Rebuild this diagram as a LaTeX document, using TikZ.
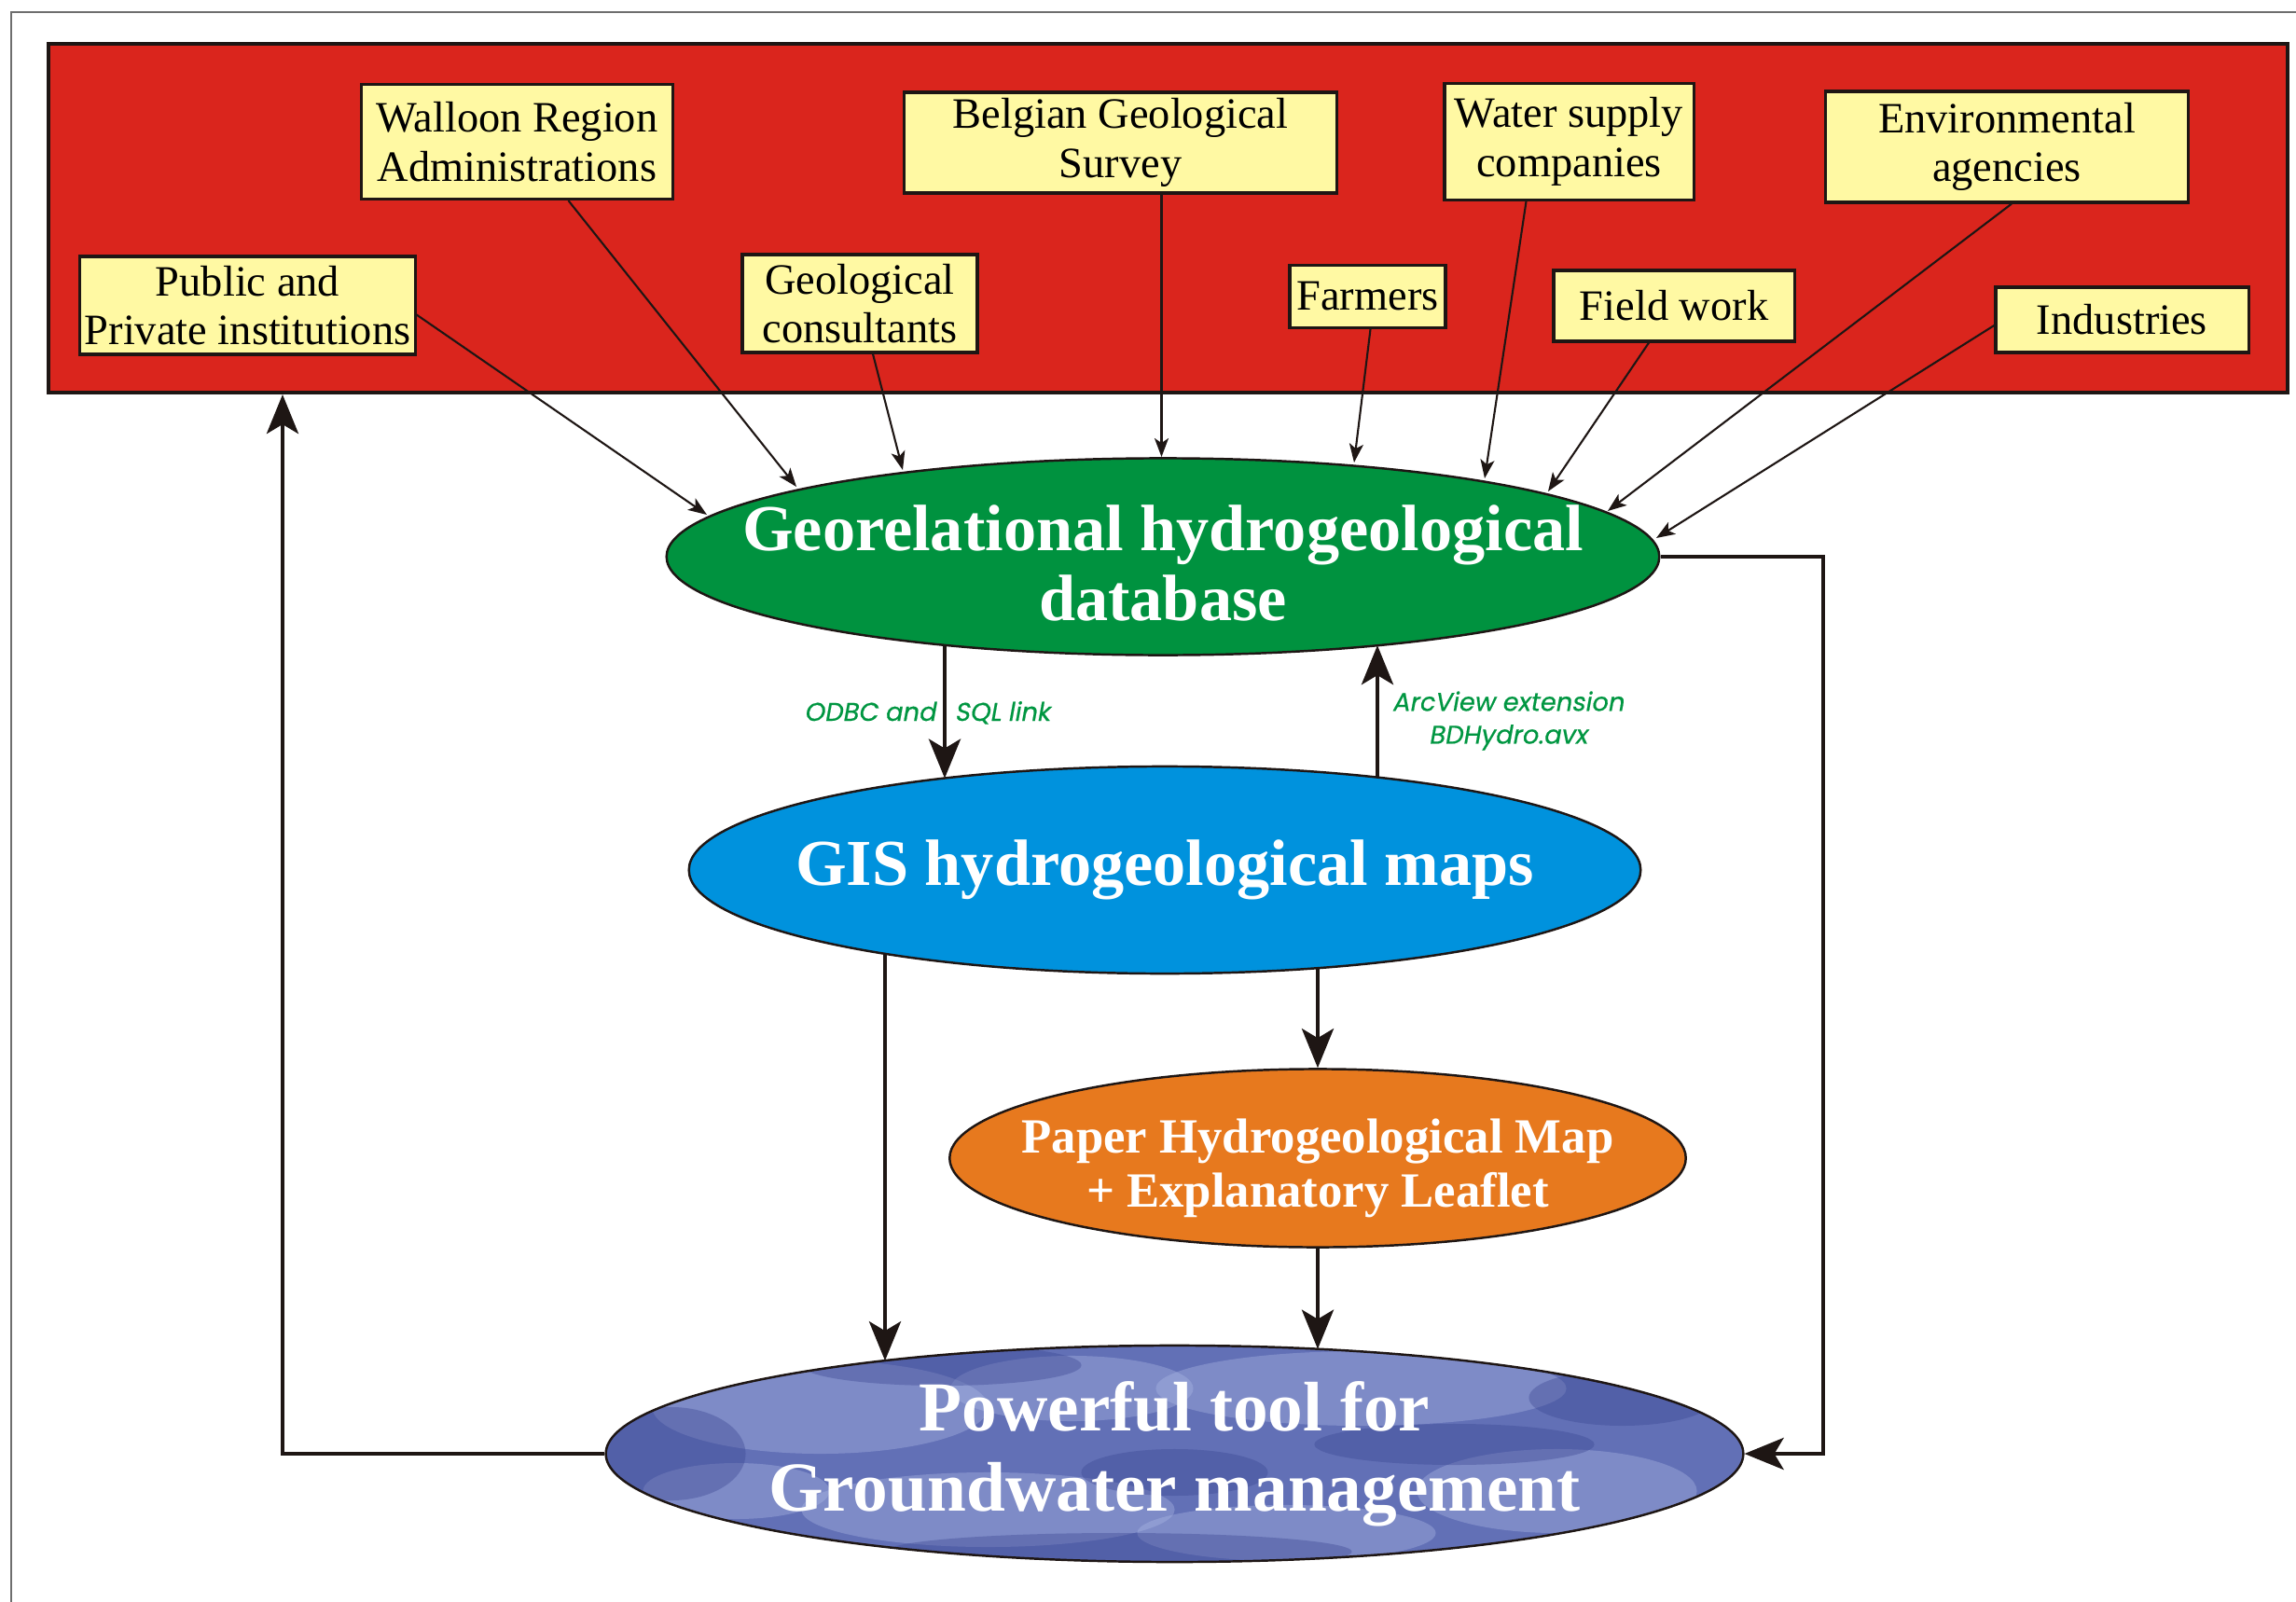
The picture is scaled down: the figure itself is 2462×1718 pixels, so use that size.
\documentclass[tikz,border=0pt]{standalone}
\usepackage{fontspec}
\setmainfont{Liberation Serif}
\newfontfamily\gothicfont[FakeSlant=0.18,FakeBold=0.6]{Poppins}
\usetikzlibrary{arrows.meta,calc,shapes.geometric}

\definecolor{srcred}{RGB}{218,37,29}
\definecolor{boxyellow}{RGB}{255,249,163}
\definecolor{dbgreen}{RGB}{0,146,63}
\definecolor{gisblue}{RGB}{0,146,221}
\definecolor{paperorange}{RGB}{231,121,30}
\definecolor{toolblue}{RGB}{98,112,182}
\definecolor{toollight}{RGB}{172,184,228}
\definecolor{tooldark}{RGB}{58,70,146}
\definecolor{edge}{RGB}{30,22,20}
\definecolor{framegray}{RGB}{110,110,110}
\definecolor{lblgreen}{RGB}{0,150,65}

\tikzset{
  srcpanel/.style={rectangle, draw=edge, line width=1.1pt, fill=srcred, inner sep=0pt},
  actor/.style={rectangle, draw=edge, line width=0.9pt, fill=boxyellow, inner sep=0pt,
    align=center, font=\fontsize{13.2}{15}\selectfont},
  blob/.style={ellipse, draw=edge, line width=0.7pt, inner sep=0pt},
  blobtext/.style={text=white, font=\bfseries\fontsize{20}{21.5}\selectfont, align=center, inner sep=0pt},
  feed/.style={draw=edge, line width=0.6pt, -{Stealth[length=0.2cm,width=0.15cm,inset=0.05cm]}},
  flow/.style={draw=edge, line width=1.35pt, -{Stealth[length=0.42cm,width=0.34cm,inset=0.1cm]}},
  linklbl/.style={text=lblgreen, font=\gothicfont\fontsize{7.8}{10}\selectfont, inner sep=0pt, align=center},
  lightspot/.style={fill=toollight, opacity=0.38},
  darkspot/.style={fill=tooldark, opacity=0.38},
}

\begin{document}
\begin{tikzpicture}[x=0.01cm,y=-0.01cm]
\useasboundingbox (0,0) rectangle (2462,1718);

% outer frame
\draw[framegray, line width=0.6pt] (12,1718) -- (12,13) -- (2462,13);

% source panel
\node[srcpanel, minimum width=23.99cm, minimum height=3.74cm] (src) at (1252.5,234) {};

% actors
\node[actor, minimum width=3.59cm, minimum height=1.05cm] (pub)   at (265.5,327.5) {Public and\\Private institutions};
\node[actor, minimum width=3.33cm, minimum height=1.23cm] (wal)   at (554.5,152) {Walloon Region\\Administrations};
\node[actor, minimum width=2.52cm, minimum height=1.05cm] (geo)   at (922,325.5)   {Geological\\consultants};
\node[actor, minimum width=4.63cm, minimum height=1.08cm] (bgs)   at (1201.5,153)  {Belgian Geological\\Survey};
\node[actor, minimum width=1.67cm, minimum height=0.67cm] (farm)  at (1466.5,318) {Farmers};
\node[actor, minimum width=2.67cm, minimum height=1.25cm] (water) at (1682.5,152) {Water supply\\companies};
\node[actor, minimum width=2.58cm, minimum height=0.76cm] (field) at (1795,328)    {Field work};
\node[actor, minimum width=3.88cm, minimum height=1.19cm] (env)   at (2152,157.5)  {Environmental\\agencies};
\node[actor, minimum width=2.71cm, minimum height=0.70cm] (ind)   at (2275.5,343)  {Industries};

% main ellipses
\node[blob, fill=dbgreen, minimum width=10.64cm, minimum height=2.11cm] (db) at (1247,597) {};
\node[blobtext] (dbt) at ($(db.center)+(0,7)$) {Georelational hydrogeological\\database};

\node[blob, fill=gisblue, minimum width=10.20cm, minimum height=2.22cm] (gis) at (1249,933) {};
\node[blobtext] (gist) at (gis.center) {GIS hydrogeological maps};

\node[blob, fill=paperorange, minimum width=7.89cm, minimum height=1.91cm] (paper) at (1413,1242) {};
\node[blobtext, font=\bfseries\fontsize{15}{16.4}\selectfont] (papert) at ($(paper.center)+(0,11)$) {Paper Hydrogeological Map\\+ Explanatory Leaflet};

\node[blob, fill=toolblue, minimum width=12.19cm, minimum height=2.32cm,
  path picture={
    \begin{scope}[shift={(path picture bounding box.center)}]
      \fill[lightspot, rotate=8]  (-380,-50) ellipse [x radius=1.8cm, y radius=0.5cm];
      \fill[lightspot, rotate=-15] (-110,-70) ellipse [x radius=1.3cm, y radius=0.35cm];
      \fill[lightspot, rotate=4]  (200,-70) ellipse [x radius=2.2cm, y radius=0.4cm];
      \fill[lightspot, rotate=-12] (410,40) ellipse [x radius=1.5cm, y radius=0.45cm];
      \fill[lightspot]            (-200,60) ellipse [x radius=2.0cm, y radius=0.4cm];
      \fill[lightspot, rotate=9]  (120,85) ellipse [x radius=1.6cm, y radius=0.3cm];
      \fill[lightspot]            (-470,40) ellipse [x radius=1.0cm, y radius=0.3cm];
      \fill[darkspot, rotate=12]  (-250,-95) ellipse [x radius=1.5cm, y radius=0.22cm];
      \fill[darkspot]             (-540,0) ellipse [x radius=0.8cm, y radius=0.5cm];
      \fill[darkspot, rotate=-8]  (300,-10) ellipse [x radius=1.5cm, y radius=0.22cm];
      \fill[darkspot, rotate=55]  (0,20) ellipse [x radius=1.0cm, y radius=0.25cm];
      \fill[darkspot]             (480,-60) ellipse [x radius=1.0cm, y radius=0.3cm];
      \fill[darkspot]             (-60,105) ellipse [x radius=2.5cm, y radius=0.2cm];
    \end{scope}
  }] (tool) at (1259.5,1559) {};
\node[blobtext, font=\bfseries\fontsize{21.4}{24.5}\selectfont] (toolt) at (tool.center) {Powerful tool for\\Groundwater management};

% feed arrows (tips on the database ellipse, offsets from its centre)
\draw[feed] ($(pub.east)+(0,10)$)     -- ($(db.center)+(-489,-45)$);
\draw[feed] ($(wal.south)+(55,0)$)    -- ($(db.center)+(-393,-75)$);
\draw[feed] ($(geo.south)+(14,0)$)    -- ($(db.center)+(-279,-93)$);
\draw[feed] ($(bgs.south)+(44,0)$)    -- ($(db.center)+(-1.5,-107)$);
\draw[feed] ($(farm.south)+(3,0)$)    -- ($(db.center)+(205,-101)$);
\draw[feed] ($(water.south)+(-46,0)$) -- ($(db.center)+(345,-84)$);
\draw[feed] ($(field.south)+(-27,0)$) -- ($(db.center)+(413,-70)$);
\draw[feed] ($(env.south)+(5,0)$)     -- ($(db.center)+(477,-49)$);
\draw[feed] ($(ind.west)+(0,6)$)      -- ($(db.center)+(529,-20)$);

% thick flows
\draw[flow] ($(db.center)+(-234,94.7)$) -- ($(gis.center)+(-236,-98.4)$);
\draw[flow] ($(gis.center)+(228,-99.3)$) -- ($(db.center)+(230,95.1)$);
\draw[flow] ($(gis.center)+(-300,89.8)$) -- ($(tool.center)+(-310.5,-99.8)$);
\draw[flow] ($(gis.center)+(164,105.1)$) -- (paper.north);
\draw[flow] (paper.south) -- ($(tool.center)+(153.5,-112.3)$);
\coordinate (rc) at (1955,597);
\draw[flow] (db.east) -- (rc) |- (tool.east);
\coordinate (lc) at (303,1559);
\draw[flow] (tool.west) -- (lc) -- (lc |- src.south);

% link labels
\node[linklbl, anchor=base east] (odbcA) at (1004,773) {ODBC and};
\node[linklbl, anchor=base west] (odbcB) at (1023,773) {SQL link};
\node[linklbl] (arcv) at (1617,773) {ArcView extension\\BDHydro.avx};
\end{tikzpicture}
\end{document}
